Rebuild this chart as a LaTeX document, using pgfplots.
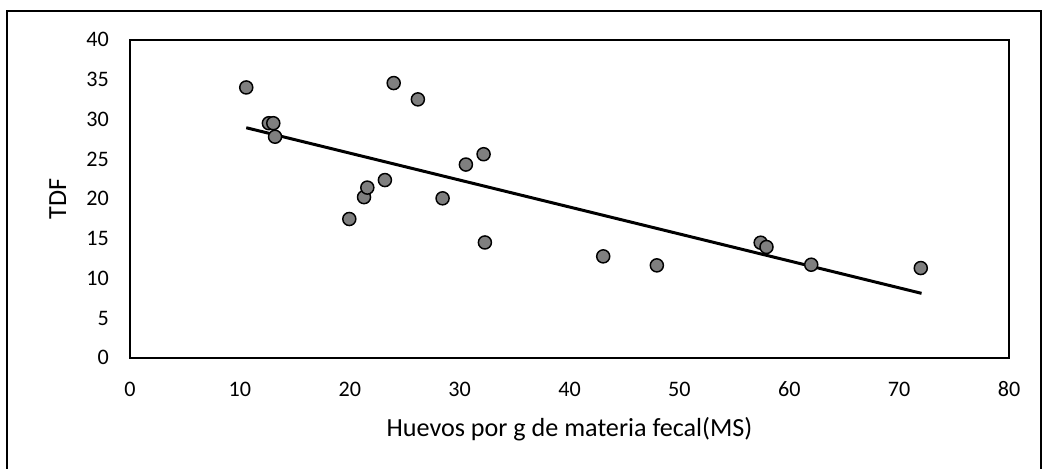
\documentclass[border=0pt]{standalone}
\usepackage{pgfplots}
\pgfplotsset{compat=1.18}
\usepackage{fontspec}
\setmainfont{Carlito}
\definecolor{markgray}{RGB}{127,127,127}
\begin{document}
\begin{tikzpicture}
\useasboundingbox (0,0) rectangle (781.5pt,351pt);
% outer frame (bottom edge lies below the picture)
\draw[line width=1.5pt] (5.5pt,-10pt) -- (5.5pt,343pt) -- (780.5pt,343pt) -- (780.5pt,-10pt);
\begin{axis}[
    at={(97.5pt,82.7pt)}, anchor=south west,
    scale only axis,
    width=659.25pt, height=238.5pt,
    xmin=0, xmax=80, ymin=0, ymax=40,
    xtick distance=10, ytick distance=5,
    major tick length=0pt,
    axis line style={line width=1.5pt},
    /pgf/number format/assume math mode=true,
    tick label style={font=\fontsize{16.6}{19}\selectfont},
    xticklabel style={anchor=base, inner sep=0pt, yshift=-29.2pt},
    yticklabel style={anchor=east, inner sep=0pt, xshift=-15.75pt},
    label style={font=\fontsize{19.6}{23}\selectfont},
    xlabel={Huevos por g de materia fecal(MS)},
    ylabel={TDF},
    xlabel style={at={(axis description cs:0.5,-0.2484)}, anchor=base, inner sep=0pt},
    ylabel style={at={(axis description cs:-0.0728,0.5)}, anchor=base, inner sep=0pt},
    clip=false,
]
\addplot[only marks, mark=*, mark size=4.9pt,
    mark options={fill=markgray, draw=black, line width=1.1pt}]
coordinates {
(10.58,34.0) (12.64,29.5) (13.04,29.5) (13.2,27.8) (19.96,17.45)
(21.3,20.2) (21.6,21.4) (23.2,22.35) (24.0,34.55) (26.2,32.5)
(28.45,20.05) (30.57,24.3) (32.18,25.6) (32.3,14.5) (43.07,12.75)
(47.95,11.62) (57.4,14.47) (57.93,13.93) (62.0,11.7) (71.97,11.28)
};
\addplot[black, line width=2.25pt] coordinates {(10.58,28.93) (72.04,8.1)};
\end{axis}
\end{tikzpicture}
\end{document}
